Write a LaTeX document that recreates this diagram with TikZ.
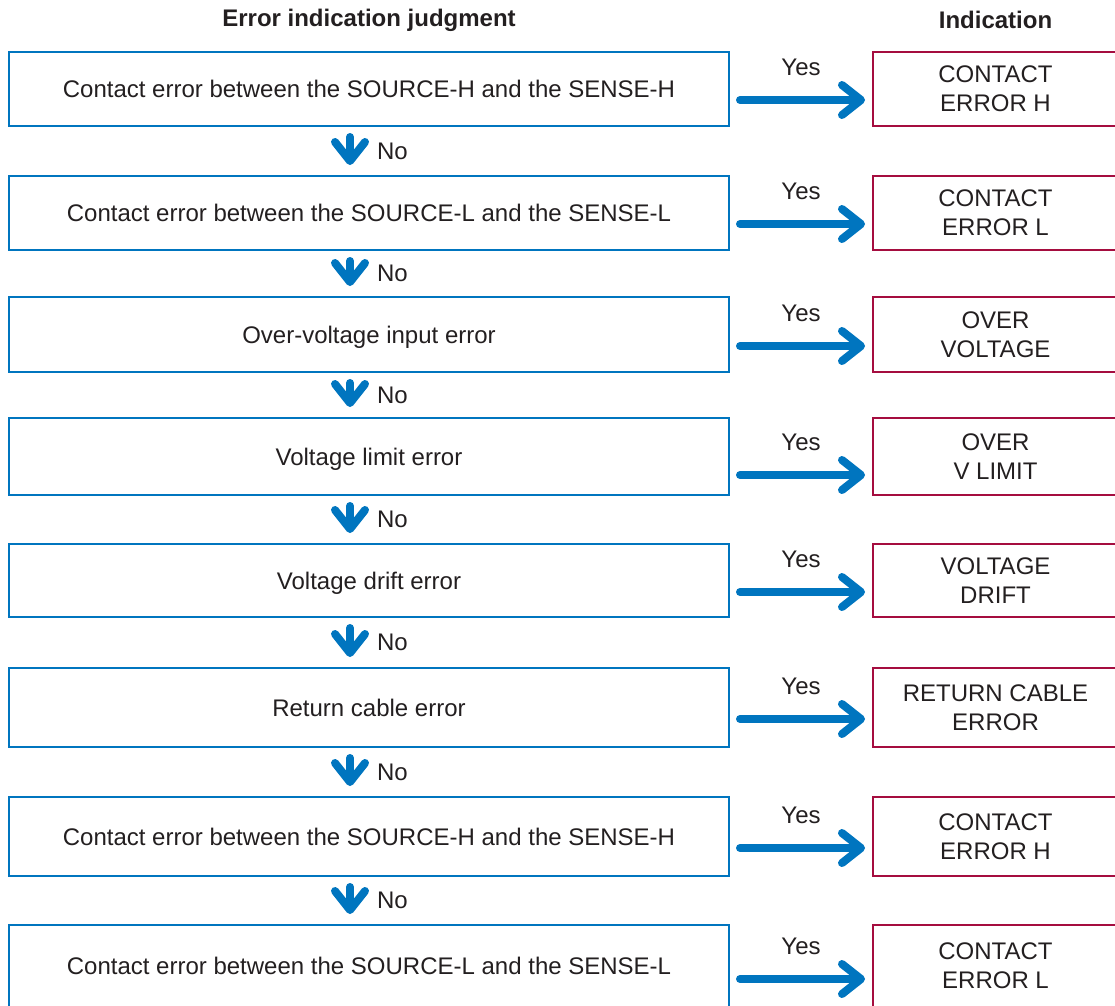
\documentclass[tikz,border=0pt]{standalone}
\usepackage{fontspec}
\setmainfont{Liberation Sans}
\usetikzlibrary{arrows.meta}
\definecolor{hblue}{HTML}{0075BF}
\definecolor{hred}{HTML}{A50D3F}
\definecolor{htext}{HTML}{231F20}
\begin{document}
\begin{tikzpicture}[x=1pt,y=1pt,
  font=\fontsize{24}{29}\selectfont, text=htext,
  judge/.style={draw=hblue, line width=2pt, minimum width=720pt, inner sep=0pt,
                text height=17.2pt, text depth=0pt},
  ind/.style={draw=hred, line width=2pt, minimum width=245pt, align=center, inner sep=0pt},
  conn/.style={draw=hblue, line width=8pt, line cap=round,
               -{Straight Barb[length=19pt,width=30pt,round]}},
  yesconn/.style={conn, shorten <=10pt, shorten >=7pt},
  noconn/.style={conn, shorten <=10pt, shorten >=10pt},
  lab/.style={inner sep=0pt},
  head/.style={font=\fontsize{24}{29}\selectfont\bfseries}]
\path[use as bounding box, clip] (0,0) rectangle (1115,-1005);

\node[head] (h1) at (369,-20) {Error indication judgment};
\node[head] (h2) at (995.5,-20) {Indication};

% judgement boxes
\node[judge, minimum height=74pt] (L1) at (369,-89) {Contact error between the SOURCE-H and the SENSE-H};
\node[judge, minimum height=74pt] (L2) at (369,-213) {Contact error between the SOURCE-L and the SENSE-L};
\node[judge, minimum height=75pt] (L3) at (369,-334.5) {Over-voltage input error};
\node[judge, minimum height=77pt] (L4) at (369,-456.5) {Voltage limit error};
\node[judge, minimum height=73pt] (L5) at (369,-580.5) {Voltage drift error};
\node[judge, minimum height=79pt] (L6) at (369,-707.5) {Return cable error};
\node[judge, minimum height=79pt] (L7) at (369,-836.5) {Contact error between the SOURCE-H and the SENSE-H};
\node[judge, minimum height=82pt] (L8) at (369,-966) {Contact error between the SOURCE-L and the SENSE-L};

% indication boxes
\node[ind, minimum height=74pt] (R1) at (995.5,-89) {CONTACT\\ERROR H};
\node[ind, minimum height=74pt] (R2) at (995.5,-213) {CONTACT\\ERROR L};
\node[ind, minimum height=75pt] (R3) at (995.5,-334.5) {OVER\\VOLTAGE};
\node[ind, minimum height=77pt] (R4) at (995.5,-456.5) {OVER\\V LIMIT};
\node[ind, minimum height=73pt] (R5) at (995.5,-580.5) {VOLTAGE\\DRIFT};
\node[ind, minimum height=79pt] (R6) at (995.5,-707.5) {RETURN CABLE\\ERROR};
\node[ind, minimum height=79pt] (R7) at (995.5,-836.5) {CONTACT\\ERROR H};
\node[ind, minimum height=82pt] (R8) at (995.5,-966) {CONTACT\\ERROR L};

% arrow heights
\coordinate (a1) at (0,-100);
\coordinate (a2) at (0,-224);
\coordinate (a3) at (0,-346);
\coordinate (a4) at (0,-475);
\coordinate (a5) at (0,-592);
\coordinate (a6) at (0,-719);
\coordinate (a7) at (0,-848);
\coordinate (a8) at (0,-979);

\foreach \i in {1,...,8}{
  \draw[yesconn] (L\i.east |- a\i) -- (R\i.west |- a\i)
    node[lab, midway, yshift=33pt] {Yes};
}

\foreach \i/\j in {1/2,2/3,3/4,4/5,5/6,6/7,7/8}{
  \draw[noconn] ([xshift=-19pt]L\i.south) -- ([xshift=-19pt]L\j.north)
    node[lab, midway, anchor=west, xshift=23pt] {No};
}
\end{tikzpicture}
\end{document}
